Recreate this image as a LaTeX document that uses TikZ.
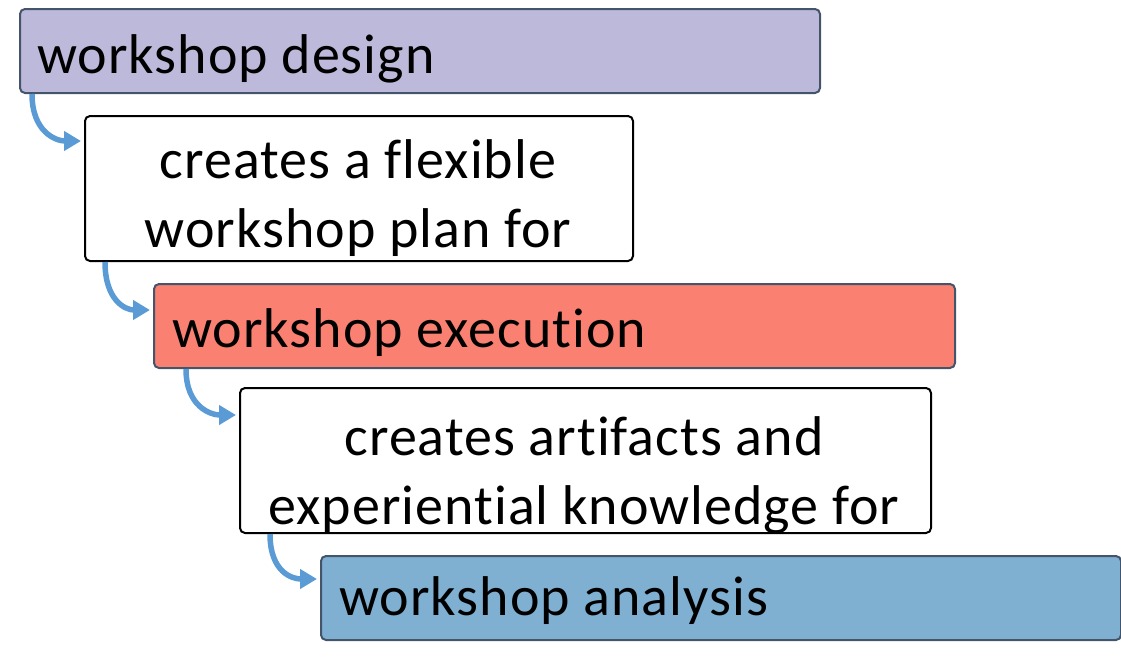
\documentclass[tikz,border=0pt]{standalone}
\usepackage{fontspec}
\setmainfont[Ligatures=NoCommon,LetterSpace=1.8]{Carlito}
\usetikzlibrary{arrows.meta}
\definecolor{lav}{HTML}{BDB9DB}
\definecolor{salm}{HTML}{FA8072}
\definecolor{skyb}{HTML}{7FAFD1}
\definecolor{edge}{HTML}{44546A}
\definecolor{arr}{HTML}{5B9BD5}
\begin{document}
\begin{tikzpicture}[x=1pt,y=-1pt,
  boxbase/.style={rectangle, rounded corners=5pt, line width=2pt, inner sep=0pt, anchor=north west},
  colbox/.style={boxbase, draw=edge},
  whitebox/.style={boxbase, draw=black, fill=white},
  txt/.style={inner sep=0pt, font=\fontsize{56}{69}\selectfont},
  flow/.style={draw=arr, line width=5.5pt, shorten >=3pt, -{Triangle[length=17pt,width=19pt]}}
]
\useasboundingbox (0,0) rectangle (1121,670);
\node[colbox, fill=lav, minimum width=800pt, minimum height=84pt] (design) at (19,8) {};
\node[whitebox, minimum width=548pt, minimum height=145pt] (plan) at (84,115) {};
\node[colbox, fill=salm, minimum width=801pt, minimum height=84pt] (exec) at (153,283) {};
\node[whitebox, minimum width=691pt, minimum height=145pt] (arti) at (239,387) {};
\node[colbox, fill=skyb, minimum width=800pt, minimum height=84pt] (anal) at (320,555) {};

\node[txt, anchor=base west] (t1) at (37,73) {workshop design};
\node[txt, anchor=base] (t2a) at (358,178) {creates a flexible};
\node[txt, anchor=base] (t2b) at (358,247) {workshop plan for};
\node[txt, anchor=base west] (t3) at (172,347) {workshop execution};
\node[txt, anchor=base] (t4a) at (584,455) {creates artifacts and};
\node[txt, anchor=base] (t4b) at (584,524) {experiential knowledge for};
\node[txt, anchor=base west] (t5) at (339,615) {workshop analysis};

\draw[flow] ([xshift=13pt]design.south west) .. controls +(0,38) and +(-28,0) .. (plan.west |- 0,141);
\draw[flow] ([xshift=21pt]plan.south west) .. controls +(0,38) and +(-28,0) .. (exec.west |- 0,310);
\draw[flow] ([xshift=33pt]exec.south west) .. controls +(0,38) and +(-28,0) .. (arti.west |- 0,415);
\draw[flow] ([xshift=31pt]arti.south west) .. controls +(0,38) and +(-28,0) .. (anal.west |- 0,579);
\end{tikzpicture}
\end{document}
